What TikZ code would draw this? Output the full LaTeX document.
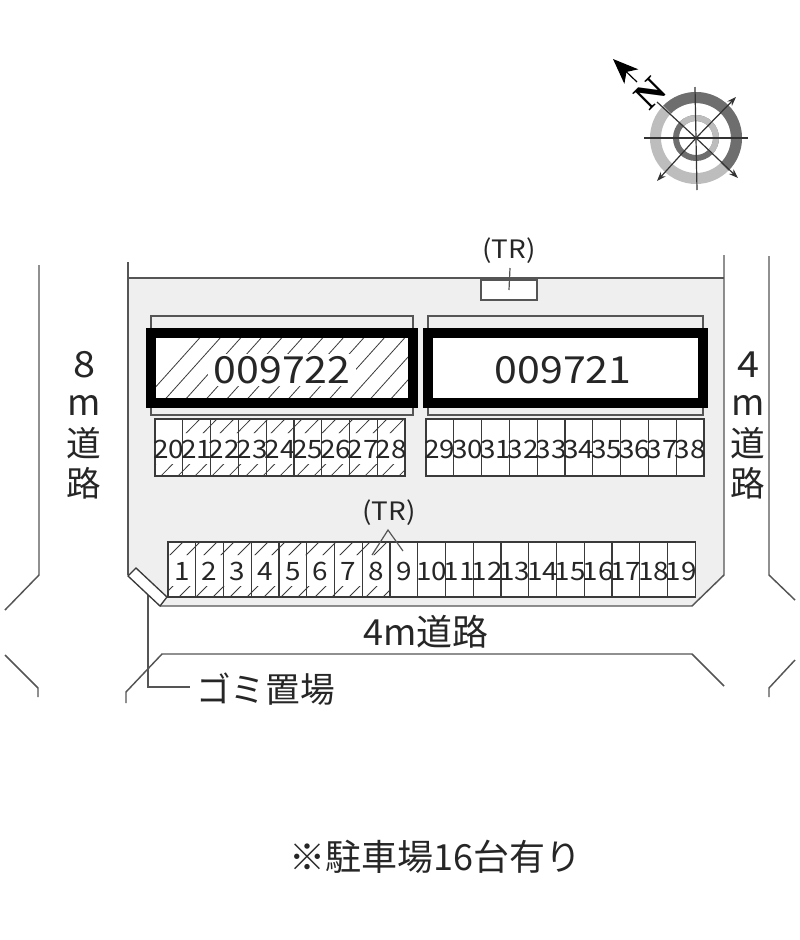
\documentclass[tikz,border=0pt]{standalone}
\usepackage{fontspec}
\setmainfont{Noto Sans CJK JP}
\newfontfamily\wide[FakeStretch=1.1]{Noto Sans CJK JP}
\newfontfamily\serifn{Liberation Serif}
\usetikzlibrary{arrows.meta}
\definecolor{lot}{HTML}{EFEFEF}
\definecolor{ln}{HTML}{555555}
\definecolor{cellln}{HTML}{3A3A3A}
\definecolor{ringd}{HTML}{6E6E6E}
\definecolor{ringl}{HTML}{BDBDBD}
\newcommand{\fs}[1]{\fontsize{#1}{#1}\selectfont}
\tikzset{
 x=0.75pt,y=-0.75pt,
 road/.style={draw=ln,line width=1.1pt},
 thin box/.style={draw=ln,line width=1pt},
 cellbox/.style={draw=cellln,line width=0.9pt,minimum width=20.85pt,minimum height=#1,inner sep=0pt,outer sep=0pt},
 hatch/.style={draw=cellln,line width=0.6pt},
 num/.style={text=black!85,inner sep=0pt,text height=14pt,text depth=0pt,font=\wide\fs{19}},
 lab/.style={text=black!85,inner sep=0pt,font=\fs{26}},
 compassline/.style={draw=black!80,line width=0.9pt},
 compassarrow/.style={compassline,-{Stealth[length=7pt,width=5pt]}},
}
\begin{document}
\begin{tikzpicture}
\useasboundingbox (0,0) rectangle (800,940);
% site
\fill[lot] (128,278) -- (724,278) -- (724,575) -- (692,606) -- (160,606) -- (128,575) -- cycle;
\draw[road] (128,262) -- (128,575);
\draw[road] (128,278) -- (724,278);
\draw[road] (724,255) -- (724,575) -- (692,606) -- (160,606);
% roads
\draw[road] (39,265) -- (39,575) -- (5,610);
\draw[road] (5,655) -- (38,688) -- (38,697);
\draw[road] (769,256) -- (769,575) -- (795,600);
\draw[road] (795,660) -- (769,688) -- (769,697);
\draw[road] (126,703) -- (126,692) -- (162,654) -- (692,654) -- (724,686);
% transformer top
\node[draw=ln,line width=1pt,fill=white,minimum width=42pt,minimum height=15pt,inner sep=0pt] (trbox) at (509,290) {};
\node[lab,font=\wide\fs{19}] (trtop) at (509,251) {(TR)};
\draw[draw=ln,line width=0.9pt] (trbox.center) -- (510,268);
% buildings
\draw[thin box] (151,316) rectangle (413,415);
\draw[thin box] (428,316) rectangle (703,415);
\fill[white] (151,332) rectangle (413,403);
\begin{scope}
\clip (151,332) rectangle (413,403);
\foreach \i in {0,...,17}{\draw[hatch] ({135+20.5*\i},410) -- ({135+20.5*\i+70},332);}
\end{scope}
\draw[black,line width=7.5pt] (151,332.5) rectangle (413,402.5);
\node[fill=white,inner xsep=4pt,inner ysep=2pt,text=black!85,font=\wide\fs{28}] (b22) at (282,370) {009722};
\draw[black,line width=7.5pt,fill=white] (428,332.5) rectangle (702.5,402.5);
\node[text=black!85,inner sep=0pt,font=\wide\fs{28}] (b21) at (563,370) {009721};
% hatches behind rows
\fill[white] (155,419) rectangle (405,476);
\fill[white] (426,419) rectangle (704,476);
\fill[white] (168,542) rectangle (695,597);
\begin{scope}
\clip (155,419) rectangle (405,433) (155,464) rectangle (405,476);
\foreach \i in {0,...,16}{\draw[hatch] ({140+17*\i},480) -- ({140+17*\i+60},419);}
\end{scope}
\begin{scope}
\clip (168,542) rectangle (390,555) (168,586) rectangle (390,597);
\foreach \i in {0,...,16}{\draw[hatch] ({125+17*\i},600) -- ({125+17*\i+58},542);}
\end{scope}
% rows
\foreach \n [count=\k from 0] in {20,...,28}{
 \node[cellbox=42.75pt,minimum width=20.83pt] (c\n) at ({168.9+27.78*\k},447.5) {};
 \node[num] at (c\n.center) [yshift=-1pt] {\n};
}
\foreach \n [count=\k from 0] in {29,...,38}{
 \node[cellbox=42.75pt] (c\n) at ({439.9+27.8*\k},447.5) {};
 \node[num] at (c\n.center) [yshift=-1pt] {\n};
}
\foreach \n [count=\k from 0] in {1,...,19}{
 \node[cellbox=41.25pt] (c\n) at ({181.9+27.74*\k},569.5) {};
 \node[num] at (c\n.center) [yshift=-1pt] {\n};
}
% second transformer
\node[lab,font=\wide\fs{19}] (trmid) at (389,513) {(TR)};
\draw[draw=ln,line width=0.9pt] (372,555) -- (388,530) -- (403,551);
% refuse area
\draw[draw=ln,line width=1pt] (148,587) -- (148,687) -- (190,687);
\draw[draw=cellln,line width=1pt,fill=white] (128,576) -- (136,568) -- (167,597) -- (160,606) -- cycle;
\node[lab,anchor=west,font=\fs{26}] (gomi) at (196,689) {ゴミ置場};
% road labels
\node[lab,font=\wide\fs{27}] (l8) at (84,365) {8};
\node[lab,font=\fs{27}] (lm1) at (84,405) {m};
\node[lab] (ld1) at (84,443) {道};
\node[lab] (lr1) at (84,483) {路};
\node[lab,font=\wide\fs{27}] (l4) at (748,365) {4};
\node[lab,font=\fs{27}] (lm2) at (748,405) {m};
\node[lab] (ld2) at (748,443) {道};
\node[lab] (lr2) at (748,483) {路};
\node[lab,font=\fs{27}] (lb) at (426,632) {4m道路};
\node[lab,font=\fs{27}] (note) at (435.5,857) {※駐車場16台有り};
% compass
\begin{scope}[shift={(696,138)}]
\fill[ringl,even odd rule] (0,0) circle[radius=34.5pt] (0,0) circle[radius=26.25pt];
\begin{scope}
\clip (-60,-60) -- (60,60) -- (60,-60) -- cycle;
\fill[ringd,even odd rule] (0,0) circle[radius=34.5pt] (0,0) circle[radius=26.25pt];
\end{scope}
\fill[ringd,even odd rule] (0,0) circle[radius=17.25pt] (0,0) circle[radius=12.75pt];
\begin{scope}
\clip (-60,-60) -- (60,60) -- (60,-60) -- cycle;
\fill[ringl,even odd rule] (0,0) circle[radius=17.25pt] (0,0) circle[radius=12.75pt];
\end{scope}
\draw[compassline] (-52,0) -- (52,0);
\draw[compassline] (-1,-51) -- (1,52);
\draw[compassline] (0,0) -- (-39,-36);
\draw[compassarrow] (0,0) -- (40,-41);
\draw[compassarrow] (0,0) -- (-39,43);
\draw[compassarrow] (0,0) -- (42,40);
\end{scope}
\coordinate (ntail) at (637,82);
\coordinate (ntip) at (613,59);
\draw[black,line width=0.9pt,-{Stealth[length=19pt,width=15pt,inset=5pt]}] (ntail) -- (ntip);
\node[rotate=45,inner sep=0pt,text=black,font=\serifn\bfseries\fs{28}] (north) at (650,93) {N};
\end{tikzpicture}
\end{document}
